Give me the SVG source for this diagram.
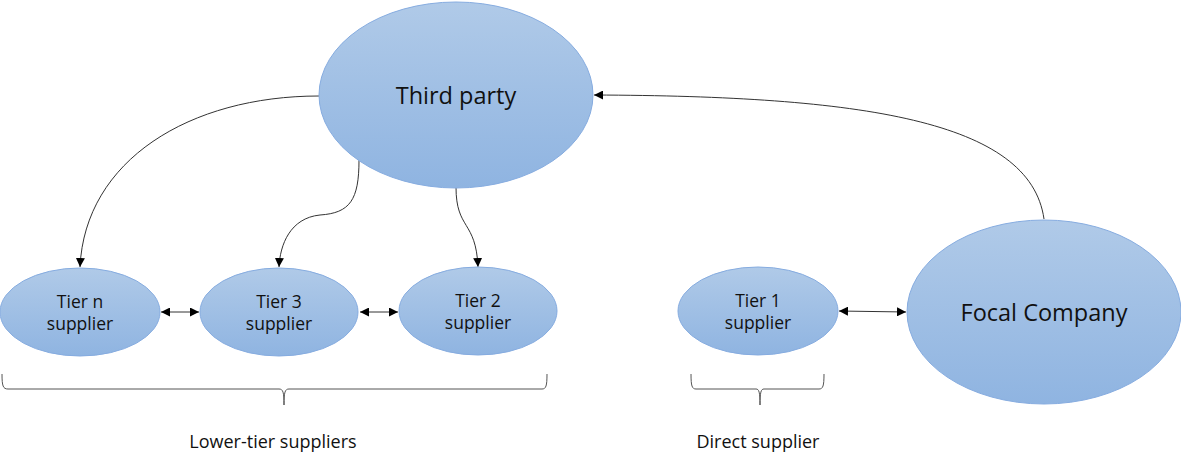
<svg xmlns="http://www.w3.org/2000/svg" width="1181" height="454" viewBox="0 0 1181 454">
  <style>
    .node { fill: url(#blueFill); stroke: #86ace0; stroke-width: 1; }
    .big { font-family: "Open Sans", "Liberation Sans", sans-serif; font-size: 23.5px; fill: #111; text-anchor: middle; }
    .small { font-family: "Open Sans", "Liberation Sans", sans-serif; font-size: 17.5px; fill: #111; text-anchor: middle; }
    .cap { font-family: "Open Sans", "Liberation Sans", sans-serif; font-size: 18px; fill: #111; text-anchor: middle; }
    .link { fill: none; stroke: #333; stroke-width: 1; }
    .brace { fill: none; stroke: #555; stroke-width: 1; }
  </style>
  <defs>
    <linearGradient id="blueFill" x1="0" y1="0" x2="0" y2="1">
      <stop offset="0" stop-color="#b0cae8"/>
      <stop offset="1" stop-color="#8fb4e1"/>
    </linearGradient>
    <marker id="head" viewBox="0 0 10 10" refX="10" refY="5" markerWidth="9" markerHeight="9" markerUnits="userSpaceOnUse" orient="auto-start-reverse">
      <path d="M0,0 L10,5 L0,10 Z" fill="#000"/>
    </marker>
  </defs>

  <rect width="1181" height="454" fill="#fff"/>

  <!-- connectors -->
  <g id="connectors">
    <path class="link" d="M319,96 C190,96 85,160 80,267" marker-end="url(#head)"/>
    <path class="link" d="M359,160 C359,200 350,213 320,215 C290,218 280,245 279,267" marker-end="url(#head)"/>
    <path class="link" d="M456,187 C456,230 476,220 478,267" marker-end="url(#head)"/>
    <path class="link" d="M1044,219 C1030,120 860,96 594,95" marker-end="url(#head)"/>
    <path class="link" d="M161,312 L199,312" marker-start="url(#head)" marker-end="url(#head)"/>
    <path class="link" d="M360,312 L398,312" marker-start="url(#head)" marker-end="url(#head)"/>
    <path class="link" d="M839,311 L906,312" marker-start="url(#head)" marker-end="url(#head)"/>
  </g>

  <g id="third-party">
    <ellipse class="node" cx="456" cy="95" rx="137" ry="93"/>
    <text class="big" x="456" y="104">Third party</text>
  </g>

  <g id="focal-company">
    <ellipse class="node" cx="1044" cy="312" rx="137" ry="92"/>
    <text class="big" x="1044" y="321">Focal Company</text>
  </g>

  <g id="tier-n">
    <ellipse class="node" cx="80" cy="312" rx="80" ry="44"/>
    <text class="small" x="80" y="308">Tier n</text>
    <text class="small" x="80" y="330">supplier</text>
  </g>

  <g id="tier-3">
    <ellipse class="node" cx="279" cy="312" rx="79" ry="44"/>
    <text class="small" x="279" y="308">Tier 3</text>
    <text class="small" x="279" y="330">supplier</text>
  </g>

  <g id="tier-2">
    <ellipse class="node" cx="478" cy="311" rx="79" ry="44"/>
    <text class="small" x="478" y="307">Tier 2</text>
    <text class="small" x="478" y="329">supplier</text>
  </g>

  <g id="tier-1">
    <ellipse class="node" cx="758" cy="311" rx="80" ry="44"/>
    <text class="small" x="758" y="307">Tier 1</text>
    <text class="small" x="758" y="329">supplier</text>
  </g>

  <!-- grouping braces -->
  <g id="lower-tier-brace">
    <path class="brace" d="M2,374 C2,386 3,389 8,389 L279,389 C283,389 284,392 284,405 C284,392 285,389 289,389 L542,389 C546,389 547,386 547,374"/>
    <text class="cap" x="273" y="448">Lower-tier suppliers</text>
  </g>

  <g id="direct-brace">
    <path class="brace" d="M691,374 C691,386 692,389 696,389 L756,389 C759,389 760,392 760,405 C760,392 761,389 764,389 L819,389 C823,389 824,386 824,374"/>
    <text class="cap" x="758" y="448">Direct supplier</text>
  </g>
</svg>
